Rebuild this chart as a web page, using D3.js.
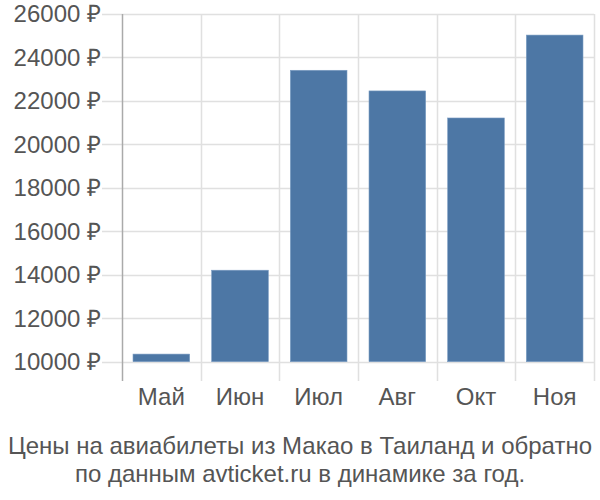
<!DOCTYPE html>
<html>
<head>
<meta charset="utf-8">
<script src="https://cdn.jsdelivr.net/npm/d3@7"></script>
<style>
  body { margin: 0; background: #fff; }
  text { font-family: "Liberation Sans", Arial, sans-serif; }
</style>
</head>
<body>
<div id="chart"></div>
<script>
// chart data
var months = ["Май", "Июн", "Июл", "Авг", "Окт", "Ноя"];
var prices = [10350, 14210, 23410, 22460, 21215, 25030];
var yTicks = [10000, 12000, 14000, 16000, 18000, 20000, 22000, 24000, 26000];
var titleLines = ["Цены на авиабилеты из Макао в Таиланд и обратно",
                  "по данным avticket.ru в динамике за год."];

var svgWidth = 600, svgHeight = 500;
var margin = {top: 14, left: 122, right: 6};
var plotBottom = 381;
var baseline = 10000;
var fontSize = 24;

var svg = d3.select("#chart")
    .append("svg")
    .attr("width", svgWidth)
    .attr("height", svgHeight);

var xScale = d3.scaleBand()
    .domain(months)
    .range([margin.left, svgWidth - margin.right])
    .paddingInner(0)
    .paddingOuter(0);

// 10000 sits at y≈362, 26000 at y≈14
var yScale = d3.scaleLinear()
    .domain([baseline, 26000])
    .range([361.7, margin.top]);

// horizontal grid lines (they also stick out left as ticks)
svg.append("g")
    .selectAll("line")
    .data(yTicks)
    .enter()
    .append("line")
        .attr("x1", 102)
        .attr("x2", svgWidth - margin.right)
        .attr("y1", d => Math.round(yScale(d)) + 0.5)
        .attr("y2", d => Math.round(yScale(d)) + 0.5)
        .attr("stroke", "#e0e0e0")
        .attr("stroke-width", 1.5);

// vertical grid lines at band edges
var edges = months.map(m => xScale(m)).concat([svgWidth - margin.right]);
svg.append("g")
    .selectAll("line")
    .data(edges.slice(1))
    .enter()
    .append("line")
        .attr("x1", d => Math.round(d) + 0.5)
        .attr("x2", d => Math.round(d) + 0.5)
        .attr("y1", margin.top)
        .attr("y2", plotBottom)
        .attr("stroke", "#e0e0e0")
        .attr("stroke-width", 1.5);

// left axis line
svg.append("line")
    .attr("x1", margin.left + 0.5)
    .attr("x2", margin.left + 0.5)
    .attr("y1", margin.top)
    .attr("y2", plotBottom)
    .attr("stroke", "#aaaaaa")
    .attr("stroke-width", 1.5);

// bars
var barW = xScale.bandwidth() * 0.72;
svg.append("g")
    .selectAll("rect")
    .data(prices)
    .enter()
    .append("rect")
        .attr("x", (d, i) => xScale(months[i]) + (xScale.bandwidth() - barW) / 2)
        .attr("y", d => yScale(d))
        .attr("width", barW)
        .attr("height", d => yScale(baseline) - yScale(d))
        .attr("fill", "#4d77a5")
        .attr("stroke", "#7a9cc2")
        .attr("stroke-width", 0.6);

// y tick labels
svg.append("g")
    .selectAll("text")
    .data(yTicks)
    .enter()
    .append("text")
        .attr("x", 101)
        .attr("y", d => yScale(d))
        .attr("dy", "0.35em")
        .attr("text-anchor", "end")
        .attr("font-size", fontSize)
        .attr("fill", "#555")
        .text(d => d + " ₽");

// x tick labels
svg.append("g")
    .selectAll("text")
    .data(months)
    .enter()
    .append("text")
        .attr("x", d => xScale(d) + xScale.bandwidth() / 2)
        .attr("y", 405)
        .attr("text-anchor", "middle")
        .attr("font-size", fontSize)
        .attr("fill", "#555")
        .text(d => d);

// title under the chart
svg.append("g")
    .selectAll("text")
    .data(titleLines)
    .enter()
    .append("text")
        .attr("x", 300)
        .attr("y", (d, i) => 453.5 + i * 28.5)
        .attr("text-anchor", "middle")
        .attr("font-size", fontSize)
        .attr("fill", "#555")
        .text(d => d);
</script>
</body>
</html>
